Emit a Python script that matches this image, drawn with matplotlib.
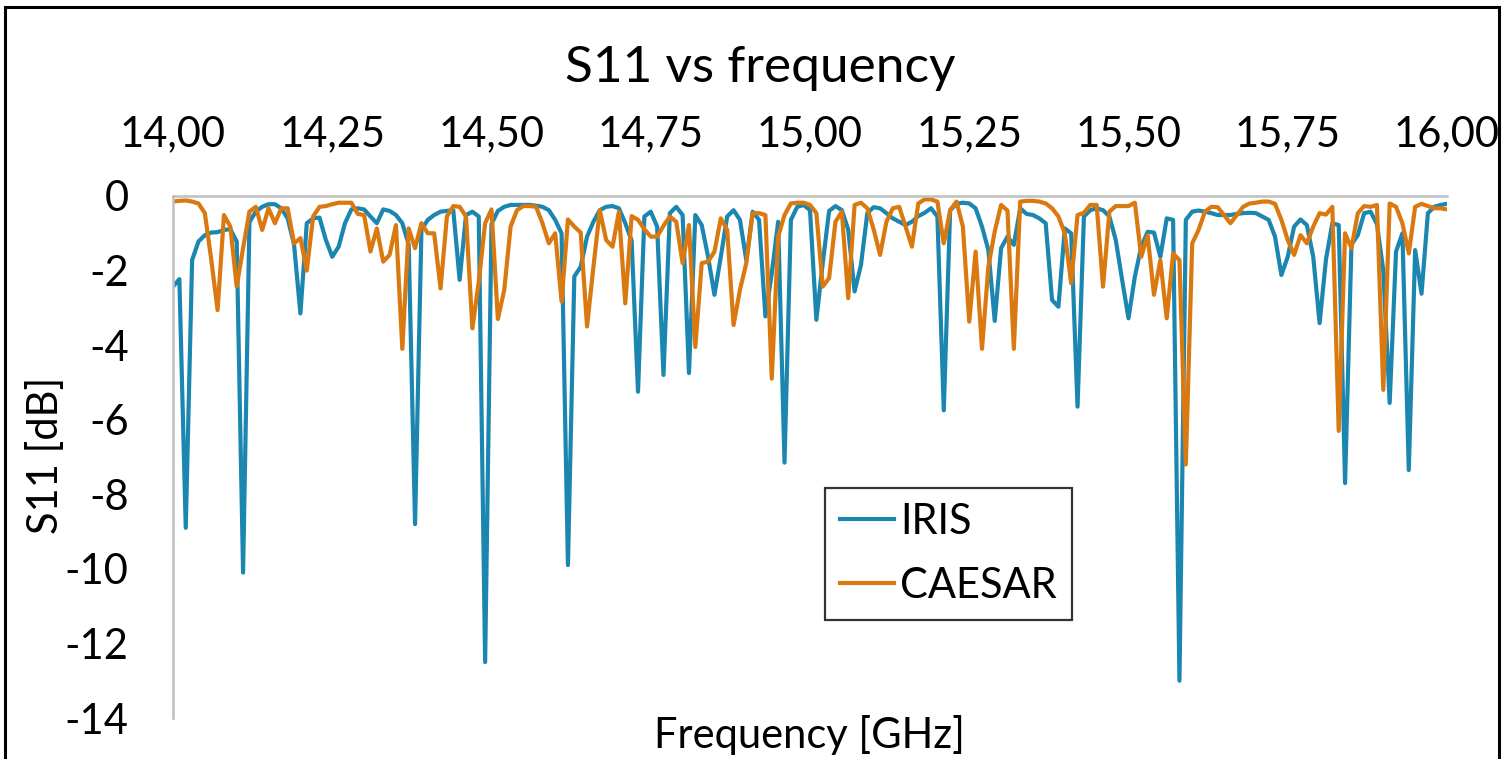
import numpy as np
import matplotlib
matplotlib.use("Agg")
import matplotlib.pyplot as plt
from matplotlib.patches import Rectangle

plt.rcParams['font.family'] = ['Lato', 'DejaVu Sans']

# ---- data ----
freq_ghz = np.linspace(14.0, 16.0, 201)

iris_db = [
    -2.43, -2.23, -8.9, -1.72, -1.22, -1.05, -0.98, -0.97, -0.91, -0.89,
    -1.22, -10.1, -0.7, -0.42, -0.29, -0.22, -0.22, -0.33, -0.6, -1.3,
    -3.15, -0.73, -0.6, -0.58, -1.18, -1.63, -1.36, -0.73, -0.36, -0.33,
    -0.36, -0.55, -0.73, -0.36, -0.4, -0.51, -0.73, -1.3, -8.8, -0.9,
    -0.64, -0.51, -0.42, -0.4, -0.38, -2.25, -0.51, -0.42, -0.55, -12.5,
    -0.75, -0.4, -0.29, -0.24, -0.24, -0.24, -0.24, -0.26, -0.29, -0.38,
    -0.64, -1.0, -9.9, -2.16, -1.9, -1.09, -0.69, -0.38, -0.29, -0.27,
    -0.33, -0.73, -1.2, -5.25, -0.55, -0.42, -0.82, -4.8, -0.46, -0.29,
    -0.51, -4.75, -0.51, -0.78, -1.63, -2.65, -1.63, -0.55, -0.38, -0.64,
    -1.72, -0.42, -0.64, -3.23, -2.07, -0.69, -7.15, -0.64, -0.29, -0.24,
    -0.38, -3.32, -1.8, -0.4, -0.27, -0.38, -0.9, -2.56, -1.85, -0.46,
    -0.3, -0.33, -0.46, -0.6, -0.69, -0.78, -0.69, -0.54, -0.45, -0.33,
    -0.55, -5.75, -0.38, -0.21, -0.18, -0.2, -0.33, -0.82, -1.45, -3.35,
    -1.4, -1.09, -1.31, -0.33, -0.48, -0.51, -0.6, -0.73, -2.79, -2.97,
    -0.87, -1.0, -5.65, -0.55, -0.38, -0.33, -0.38, -0.55, -1.18, -2.25,
    -3.28, -2.16, -1.36, -0.96, -0.98, -1.63, -0.6, -0.64, -13.0, -0.64,
    -0.42, -0.39, -0.42, -0.46, -0.51, -0.51, -0.51, -0.48, -0.46, -0.45,
    -0.46, -0.55, -0.64, -1.09, -2.12, -1.63, -0.82, -0.63, -0.78, -1.63,
    -3.41, -1.7, -0.73, -0.78, -7.7, -1.3, -1.05, -0.46, -0.42, -0.75,
    -2.0, -5.55, -1.49, -1.0, -7.35, -1.45, -2.62, -0.46, -0.29, -0.24,
    -0.21,
]

caesar_db = [
    -0.15, -0.13, -0.12, -0.15, -0.2, -0.46, -1.7, -3.06, -0.51, -0.82,
    -2.43, -1.4, -0.42, -0.29, -0.91, -0.33, -0.73, -0.33, -0.33, -1.27,
    -1.13, -2.0, -0.55, -0.29, -0.27, -0.22, -0.18, -0.18, -0.18, -0.48,
    -0.51, -1.49, -0.87, -1.76, -1.58, -0.78, -4.1, -0.87, -1.4, -0.73,
    -1.0, -1.0, -2.48, -0.55, -0.27, -0.29, -0.55, -3.55, -2.3, -0.73,
    -0.36, -3.3, -2.52, -0.82, -0.38, -0.27, -0.27, -0.29, -0.73, -1.27,
    -1.0, -2.83, -0.63, -0.82, -0.98, -3.5, -1.9, -0.38, -1.18, -1.36,
    -0.42, -2.88, -0.54, -0.64, -0.89, -1.09, -1.09, -0.8, -0.55, -0.69,
    -1.8, -0.78, -4.05, -1.8, -1.76, -1.49, -0.6, -0.91, -3.46, -2.52,
    -1.8, -0.46, -0.46, -0.51, -4.9, -1.09, -0.51, -0.2, -0.18, -0.18,
    -0.24, -0.46, -2.43, -2.2, -0.69, -0.42, -2.74, -0.24, -0.18, -0.33,
    -0.9, -1.58, -0.69, -0.33, -0.29, -0.82, -1.36, -0.2, -0.09, -0.09,
    -0.15, -1.27, -0.38, -0.15, -0.82, -3.37, -1.49, -4.1, -1.9, -0.95,
    -0.24, -0.39, -4.1, -0.15, -0.13, -0.13, -0.15, -0.2, -0.33, -0.55,
    -1.0, -2.34, -0.51, -0.45, -0.24, -0.24, -2.43, -0.42, -0.27, -0.27,
    -0.27, -0.18, -1.63, -1.05, -2.65, -1.72, -3.28, -1.54, -1.72, -7.2,
    -1.27, -0.91, -0.42, -0.29, -0.3, -0.51, -0.73, -0.51, -0.29, -0.2,
    -0.18, -0.15, -0.15, -0.21, -0.64, -1.18, -1.58, -1.05, -1.27, -0.82,
    -0.46, -0.5, -0.29, -6.3, -1.0, -1.4, -0.46, -0.27, -0.29, -0.24,
    -5.2, -0.2, -0.29, -0.73, -1.54, -0.29, -0.21, -0.27, -0.33, -0.33,
    -0.36,
]

x_ticks = [14.00, 14.25, 14.50, 14.75, 15.00, 15.25, 15.50, 15.75, 16.00]
x_tick_labels = ["14,00", "14,25", "14,50", "14,75", "15,00", "15,25", "15,50", "15,75", "16,00"]
y_ticks = [0, -2, -4, -6, -8, -10, -12, -14]
y_tick_labels = ["0", "-2", "-4", "-6", "-8", "-10", "-12", "-14"]
series_names = ["IRIS", "CAESAR"]

# ---- figure ----
W, H = 1504, 759
fig = plt.figure(figsize=(W / 100, H / 100), dpi=100)
fig.patch.set_facecolor("white")

# outer black frame
fig.add_artist(Rectangle((5 / W, -0.05), (1499 - 5) / W, 1.05 - 7 / H,
                         transform=fig.transFigure, fill=False,
                         edgecolor="black", linewidth=2.2, clip_on=False))

ax = fig.add_axes([173 / W, (H - 718) / H, 1274 / W, 522 / H])

blue = "#1B86B0"
orange = "#D9790F"
ax.plot(freq_ghz, iris_db, color=blue, lw=3.0, solid_joinstyle="round", label=series_names[0])
ax.plot(freq_ghz, caesar_db, color=orange, lw=3.0, solid_joinstyle="round", label=series_names[1])

ax.set_xlim(14.0, 16.0)
ax.set_ylim(-14, 0)

FS = 30
ax.xaxis.tick_top()
ax.set_xticks(x_ticks)
ax.set_xticklabels(x_tick_labels, fontsize=FS)
ax.set_yticks(y_ticks)
ax.set_yticklabels(y_tick_labels, fontsize=FS)
ax.tick_params(axis="x", length=0, pad=31)
ax.tick_params(axis="y", length=0, pad=32)

for s in ["right", "bottom"]:
    ax.spines[s].set_visible(False)
for s in ["top", "left"]:
    ax.spines[s].set_color("#BFBFBF")
    ax.spines[s].set_linewidth(1.8)

fig.text(760 / W, 1 - 68 / H, "S11 vs frequency", ha="center", va="center", fontsize=37)
fig.text(45 / W, 1 - 455 / H, "S11 [dB]", rotation=90, ha="center", va="center", fontsize=FS)
fig.text(809 / W, 1 - 735 / H, "Frequency [GHz]", ha="center", va="center", fontsize=FS)

leg = ax.legend(loc="upper left", bbox_to_anchor=((825 - 173) / 1274, (718 - 488) / 522),
                fontsize=FS, frameon=True, fancybox=False, handlelength=1.3,
                handletextpad=0.15, borderpad=0.36, labelspacing=0.62, borderaxespad=0)
leg.get_frame().set_edgecolor("black")
leg.get_frame().set_linewidth(1.6)

fig.savefig("out.png", dpi=100, facecolor="white")
